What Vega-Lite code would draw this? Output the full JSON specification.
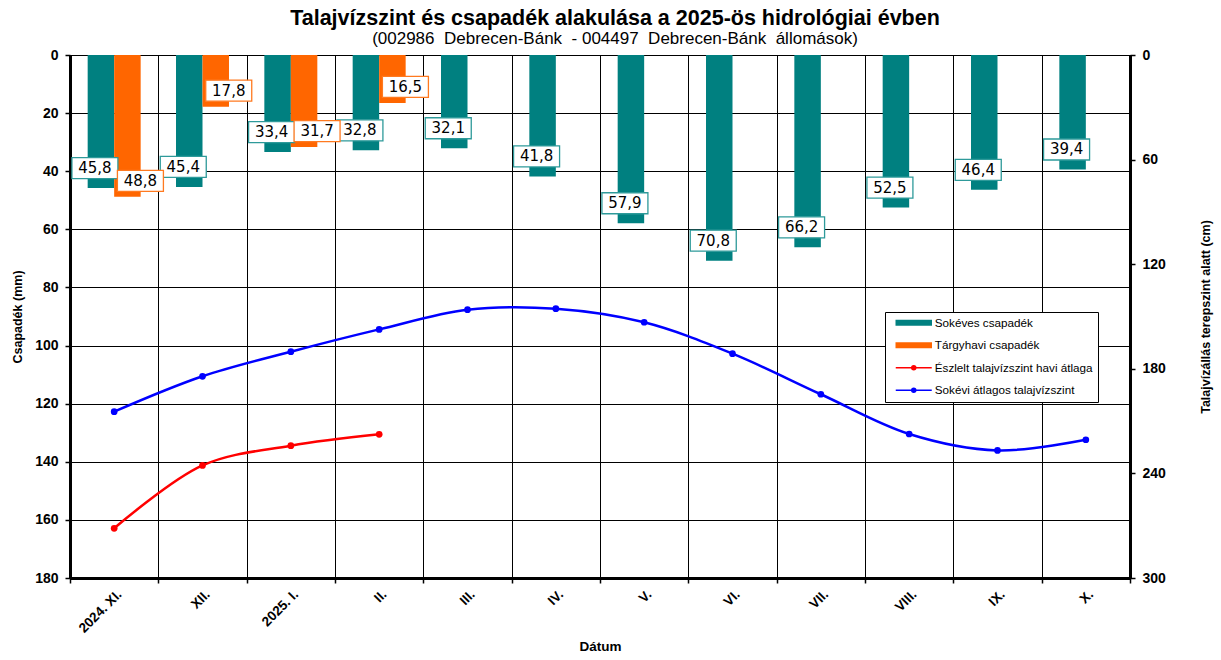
{
  "$schema": "https://vega.github.io/schema/vega-lite/v6.json",
  "width": 1060,
  "height": 523,
  "autosize": "none",
  "padding": {"left": 70, "top": 55, "right": 91, "bottom": 82},
  "background": "white",
  "title": {
    "text": "Talajvízszint és csapadék alakulása a 2025-ös hidrológiai évben",
    "subtitle": "(002986 \u00a0Debrecen-Bánk \u00a0- 004497 \u00a0Debrecen-Bánk \u00a0állomások)",
    "anchor": "middle",
    "frame": "group",
    "dx": 15,
    "offset": 1,
    "font": "Liberation Sans",
    "fontSize": 21.5,
    "fontWeight": "bold",
    "color": "black",
    "subtitleFont": "Liberation Sans",
    "subtitleFontSize": 17,
    "subtitleColor": "black",
    "subtitlePadding": 2
  },
  "config": {
    "font": "Liberation Sans",
    "view": {"stroke": "black", "strokeWidth": 1},
    "axis": {
      "labelFont": "Liberation Sans",
      "labelFontWeight": "bold",
      "labelColor": "black",
      "labelFontSize": 14,
      "titleFont": "Liberation Sans",
      "titleFontWeight": "bold",
      "titleColor": "black",
      "titleFontSize": 12.5,
      "domainColor": "black",
      "domainWidth": 3,
      "tickColor": "black",
      "tickSize": 5,
      "tickWidth": 1.5,
      "gridColor": "black",
      "gridWidth": 1,
      "gridOpacity": 1
    },
    "locale": {"number": {"decimal": ",", "thousands": " ", "grouping": [3], "currency": ["", " Ft"]}}
  },
  "layer": [
    {
      "data": {"values": [
        {"honap": "2024. XI.", "series": "Sokéves csapadék", "mm": 45.8},
        {"honap": "2024. XI.", "series": "Tárgyhavi csapadék", "mm": 48.8},
        {"honap": "XII.", "series": "Sokéves csapadék", "mm": 45.4},
        {"honap": "XII.", "series": "Tárgyhavi csapadék", "mm": 17.8},
        {"honap": "2025. I.", "series": "Sokéves csapadék", "mm": 33.4},
        {"honap": "2025. I.", "series": "Tárgyhavi csapadék", "mm": 31.7},
        {"honap": "II.", "series": "Sokéves csapadék", "mm": 32.8},
        {"honap": "II.", "series": "Tárgyhavi csapadék", "mm": 16.5},
        {"honap": "III.", "series": "Sokéves csapadék", "mm": 32.1},
        {"honap": "IV.", "series": "Sokéves csapadék", "mm": 41.8},
        {"honap": "V.", "series": "Sokéves csapadék", "mm": 57.9},
        {"honap": "VI.", "series": "Sokéves csapadék", "mm": 70.8},
        {"honap": "VII.", "series": "Sokéves csapadék", "mm": 66.2},
        {"honap": "VIII.", "series": "Sokéves csapadék", "mm": 52.5},
        {"honap": "IX.", "series": "Sokéves csapadék", "mm": 46.4},
        {"honap": "X.", "series": "Sokéves csapadék", "mm": 39.4}
      ]},
      "encoding": {
        "x": {
          "field": "honap", "type": "nominal", "sort": null,
          "scale": {"domain": ["2024. XI.", "XII.", "2025. I.", "II.", "III.", "IV.", "V.", "VI.", "VII.", "VIII.", "IX.", "X."], "paddingInner": 0, "paddingOuter": 0},
          "axis": {"title": "Dátum", "labelAngle": -45, "tickBand": "extent", "grid": true, "labelPadding": 4, "titlePadding": 5, "titleFontSize": 13.5, "labelFontSize": 13.5}
        },
        "xOffset": {
          "field": "series", "type": "nominal",
          "scale": {"domain": ["Sokéves csapadék", "Tárgyhavi csapadék"], "paddingInner": 0, "paddingOuter": 0.667}
        },
        "y": {
          "field": "mm", "type": "quantitative",
          "scale": {"domain": [0, 180], "reverse": true, "nice": false},
          "axis": {"title": "Csapadék (mm)", "values": [0, 20, 40, 60, 80, 100, 120, 140, 160, 180], "grid": true, "labelPadding": 7, "titlePadding": 10}
        }
      },
      "layer": [
        {
          "mark": {"type": "bar"},
          "encoding": {
            "color": {
              "field": "series", "type": "nominal",
              "scale": {"domain": ["Sokéves csapadék", "Tárgyhavi csapadék", "Észlelt talajvízszint havi átlaga", "Sokévi átlagos talajvízszint"], "range": ["#008080", "#FF6600", "#FF0000", "#0000FF"]},
              "legend": {
                "orient": "none", "legendX": 815, "legendY": 257,
                "title": null, "direction": "vertical",
                "fillColor": "white", "strokeColor": "black",
                "padding": 4.75,
                "labelFont": "Liberation Sans", "labelFontSize": 11.7, "labelColor": "black", "labelLimit": 300,
                "symbolSize": 100, "symbolStrokeWidth": 1.5, "rowPadding": 9.5,
                "symbolOffset": 18, "labelOffset": 15,
                "encode": {"symbols": {"update": {
                  "shape": {"signal": "indexof(['Sokéves csapadék','Tárgyhavi csapadék'], datum.value) >= 0 ? 'M-3.5,-0.45H3.5V0.45H-3.5Z' : 'M-3.6,0H3.6M0.4,0A0.4,0.4 0 1,1 -0.4,0A0.4,0.4 0 1,1 0.4,0'"},
                  "fill": {"scale": "color", "field": "value"},
                  "stroke": {"scale": "color", "field": "value"},
                  "strokeWidth": {"value": 1.5},
                  "opacity": {"value": 1}
                }}}
              }
            }
          }
        },
        {
          "transform": [{"filter": "datum.series === 'Sokéves csapadék'"}],
          "layer": [
            {
              "mark": {"type": "point", "shape": "M-1.261,-0.4565H0.739V0.4565H-1.261Z", "size": 2116, "filled": false, "fill": "white", "fillOpacity": 1, "stroke": "#2E9A9A", "strokeWidth": 1.3, "opacity": 1, "yOffset": -20}
            },
            {
              "mark": {"type": "text", "font": "DejaVu Sans", "fontSize": 15, "color": "black", "baseline": "middle", "align": "center", "dx": -6, "yOffset": -20},
              "encoding": {"text": {"field": "mm", "type": "quantitative", "format": ".1f"}}
            }
          ]
        },
        {
          "transform": [{"filter": "datum.series === 'Tárgyhavi csapadék'"}],
          "layer": [
            {
              "mark": {"type": "point", "shape": "M-0.435,-0.4565H1.565V0.4565H-0.435Z", "size": 2116, "filled": false, "fill": "white", "fillOpacity": 1, "stroke": "#FF7A20", "strokeWidth": 1.3, "opacity": 1, "yOffset": -16}
            },
            {
              "mark": {"type": "text", "font": "DejaVu Sans", "fontSize": 15, "color": "black", "baseline": "middle", "align": "center", "dx": 13, "yOffset": -16},
              "encoding": {"text": {"field": "mm", "type": "quantitative", "format": ".1f"}}
            }
          ]
        }
      ]
    },
    {
      "data": {"values": [
        {"honap": "2024. XI.", "series": "Észlelt talajvízszint havi átlaga", "cm": 271.5},
        {"honap": "XII.", "series": "Észlelt talajvízszint havi átlaga", "cm": 235.4},
        {"honap": "2025. I.", "series": "Észlelt talajvízszint havi átlaga", "cm": 224.1},
        {"honap": "II.", "series": "Észlelt talajvízszint havi átlaga", "cm": 217.6},
        {"honap": "2024. XI.", "series": "Sokévi átlagos talajvízszint", "cm": 204.6},
        {"honap": "XII.", "series": "Sokévi átlagos talajvízszint", "cm": 184.3},
        {"honap": "2025. I.", "series": "Sokévi átlagos talajvízszint", "cm": 170.2},
        {"honap": "II.", "series": "Sokévi átlagos talajvízszint", "cm": 157.4},
        {"honap": "III.", "series": "Sokévi átlagos talajvízszint", "cm": 146.1},
        {"honap": "IV.", "series": "Sokévi átlagos talajvízszint", "cm": 145.5},
        {"honap": "V.", "series": "Sokévi átlagos talajvízszint", "cm": 153.3},
        {"honap": "VI.", "series": "Sokévi átlagos talajvízszint", "cm": 171.3},
        {"honap": "VII.", "series": "Sokévi átlagos talajvízszint", "cm": 194.6},
        {"honap": "VIII.", "series": "Sokévi átlagos talajvízszint", "cm": 217.4},
        {"honap": "IX.", "series": "Sokévi átlagos talajvízszint", "cm": 226.8},
        {"honap": "X.", "series": "Sokévi átlagos talajvízszint", "cm": 220.7}
      ]},
      "mark": {"type": "line", "interpolate": "catmull-rom", "strokeWidth": 2.5, "point": {"filled": true, "size": 45}},
      "encoding": {
        "x": {"field": "honap", "type": "nominal", "sort": null},
        "y": {
          "field": "cm", "type": "quantitative",
          "scale": {"domain": [0, 300], "reverse": true, "nice": false},
          "axis": {"orient": "right", "title": "Talajvízállás terepszint alatt (cm)", "titleAngle": 270, "values": [0, 60, 120, 180, 240, 300], "grid": false, "labelPadding": 7, "titlePadding": 47}
        },
        "color": {"field": "series", "type": "nominal"},
        "detail": {"field": "series"}
      }
    }
  ],
  "resolve": {"scale": {"y": "independent"}}
}
